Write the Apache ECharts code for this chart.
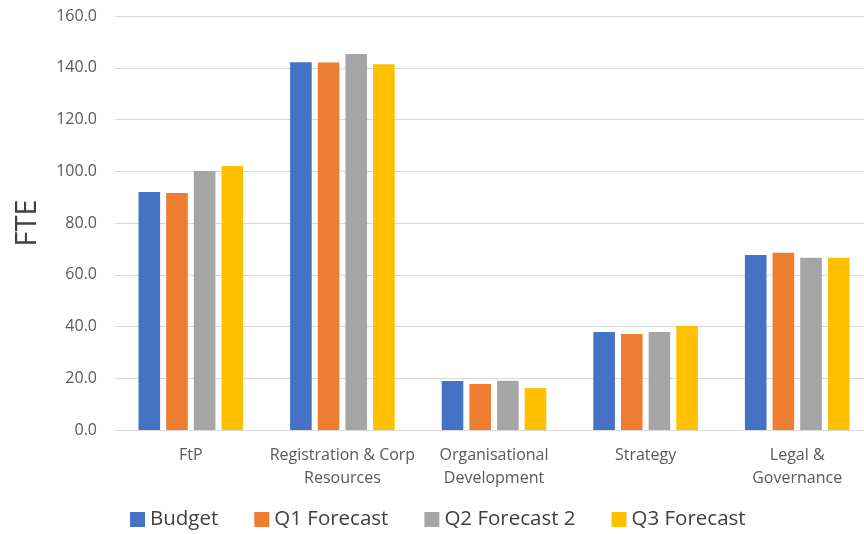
<!DOCTYPE html>
<html><head><meta charset="utf-8">
<script src="https://cdn.jsdelivr.net/npm/echarts@6/dist/echarts.min.js"></script>
<style>html,body{margin:0;padding:0;background:#fff;overflow:hidden;width:864px;height:534px}#c{width:874px;height:534px}</style>
</head><body><div id="c"></div>
<script>
const categories = ['FtP', 'Registration & Corp\nResources', 'Organisational\nDevelopment', 'Strategy', 'Legal &\nGovernance'];
const budget = [92.0, 142.1, 18.9, 37.9, 67.6];
const q1Forecast = [91.6, 142.0, 17.8, 37.1, 68.5];
const q2Forecast2 = [100.1, 145.3, 19.0, 37.9, 66.6];
const q3Forecast = [102.0, 141.4, 16.2, 40.2, 66.6];
const yTicks = [0, 20, 40, 60, 80, 100, 120, 140, 160];

const font = 'Open Sans, Liberation Sans, sans-serif';
const chart = echarts.init(document.getElementById('c'));
const mk = (name, data, color) => ({name, type:'bar', data, itemStyle:{color}, barGap:'28%', barCategoryGap:'31%'});
chart.setOption({
  animation:false,
  textStyle:{fontFamily:font},
  grid:{left:115, right:1, top:16, bottom:104},
  legend:{bottom:-1, left:125, itemWidth:15, itemHeight:15, itemGap:36, icon:'rect',
    textStyle:{fontSize:20.5, color:'#404040', fontFamily:font}},
  xAxis:{type:'category', data:categories,
    axisLine:{lineStyle:{color:'#d9d9d9'}}, axisTick:{show:false},
    axisLabel:{color:'#595959', fontSize:16, lineHeight:23, margin:14, interval:0}},
  yAxis:{type:'value', min:yTicks[0], max:yTicks[yTicks.length-1], interval:20,
    name:'FTE', nameLocation:'middle', nameGap:73, nameRotate:90,
    nameTextStyle:{fontSize:29, color:'#404040', fontFamily:font},
    axisLine:{show:false}, axisTick:{show:false},
    splitLine:{lineStyle:{color:'#d9d9d9', width:1}},
    axisLabel:{color:'#595959', fontSize:16, margin:18, formatter:v=>v.toFixed(1)}},
  series:[mk('Budget', budget, '#4472c4'), mk('Q1 Forecast', q1Forecast, '#ed7d31'),
          mk('Q2 Forecast 2', q2Forecast2, '#a5a5a5'), mk('Q3 Forecast', q3Forecast, '#ffc000')]
});
</script></body></html>
